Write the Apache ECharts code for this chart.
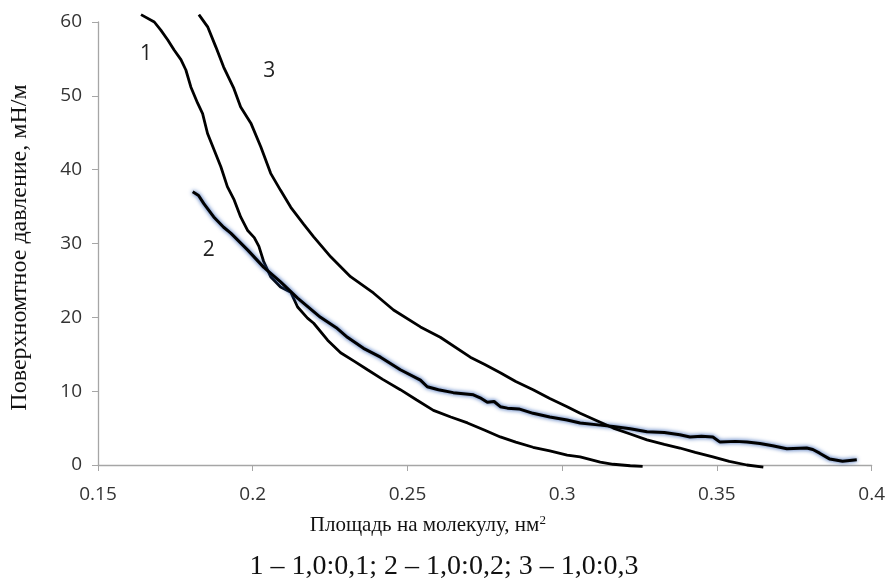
<!DOCTYPE html>
<html><head><meta charset="utf-8">
<script src="https://cdn.jsdelivr.net/npm/echarts@6/dist/echarts.min.js"></script>
<style>html,body{margin:0;padding:0;background:#fff}#c{width:888px;height:579px}</style>
</head><body><div id="c"></div>
<script>
var xTicks = ['0.15','0.2','0.25','0.3','0.35','0.4'];
var yTicks = [0,10,20,30,40,50,60];
var curve1 = [[0.1639,61.0],[0.1682,60.0],[0.1703,58.9],[0.1725,57.6],[0.1746,56.2],[0.1768,54.9],[0.1784,53.5],[0.1800,51.2],[0.1822,49.0],[0.1838,47.6],[0.1854,44.9],[0.1875,42.7],[0.1897,40.4],[0.1918,37.7],[0.1940,35.9],[0.1961,33.6],[0.1983,31.8],[0.2005,30.8],[0.2020,29.6],[0.2035,27.6],[0.2058,25.5],[0.2090,24.1],[0.2123,23.4],[0.2145,21.4],[0.2177,19.9],[0.2197,19.2],[0.2242,16.9],[0.2284,15.2],[0.2330,14.0],[0.2371,12.9],[0.2420,11.6],[0.2477,10.2],[0.2530,8.8],[0.2584,7.4],[0.2640,6.5],[0.2694,5.7],[0.2750,4.7],[0.2800,3.8],[0.2850,3.1],[0.2906,2.4],[0.2960,1.9],[0.3016,1.35],[0.3058,1.1],[0.3123,0.4],[0.3165,0.1],[0.3220,-0.1],[0.3260,-0.2]];
var curve2 = [[0.1806,37.0],[0.1825,36.5],[0.1842,35.4],[0.1874,33.6],[0.1906,32.2],[0.1929,31.4],[0.1984,29.1],[0.2035,26.8],[0.2090,24.8],[0.2145,22.6],[0.2219,20.0],[0.2270,18.6],[0.2306,17.3],[0.2358,15.8],[0.2413,14.6],[0.2477,12.9],[0.2542,11.5],[0.2564,10.6],[0.2600,10.2],[0.2648,9.8],[0.2713,9.5],[0.2735,9.1],[0.2758,8.5],[0.2780,8.6],[0.2800,7.9],[0.2823,7.7],[0.2860,7.6],[0.2906,7.0],[0.2960,6.5],[0.3016,6.1],[0.3058,5.7],[0.3123,5.4],[0.3165,5.2],[0.3220,4.9],[0.3274,4.5],[0.3330,4.4],[0.3380,4.1],[0.3413,3.8],[0.3450,3.9],[0.3487,3.8],[0.3510,3.1],[0.3560,3.2],[0.3597,3.1],[0.3639,2.9],[0.3680,2.6],[0.3726,2.2],[0.3790,2.3],[0.3810,2.1],[0.3832,1.6],[0.3865,0.8],[0.3906,0.5],[0.3952,0.7]];
var curve3 = [[0.1826,61.0],[0.1855,59.3],[0.1881,56.6],[0.1906,53.9],[0.1939,51.0],[0.1961,48.5],[0.1994,46.3],[0.2026,43.1],[0.2058,39.5],[0.2090,37.2],[0.2123,34.9],[0.2165,32.6],[0.2197,30.9],[0.2252,28.2],[0.2316,25.5],[0.2390,23.3],[0.2455,21.0],[0.2542,18.7],[0.2606,17.3],[0.2703,14.6],[0.2750,13.6],[0.2800,12.5],[0.2850,11.3],[0.2906,10.2],[0.2960,9.0],[0.3016,7.9],[0.3058,7.0],[0.3123,5.8],[0.3165,5.0],[0.3220,4.2],[0.3274,3.4],[0.3330,2.8],[0.3380,2.3],[0.3430,1.7],[0.3487,1.1],[0.3540,0.5],[0.3597,0.0],[0.3650,-0.3]];
var curveLabels = [{name:'1', coord:[0.1655,55.7]},{name:'2', coord:[0.1858,29.1]},{name:'3', coord:[0.2053,53.3]}];
var xTitle = 'Площадь на молекулу, нм';
var yTitle = 'Поверхномтное давление, мН/м';
var caption = '1 – 1,0:0,1; 2 – 1,0:0,2; 3 – 1,0:0,3';

var chart = echarts.init(document.getElementById('c'));
var sansFont = '"Open Sans", "Liberation Sans", sans-serif';
var serifFont = '"Liberation Serif", "DejaVu Serif", serif';
function mk(name, data, idx, extra) {
  return {
    name: name, type: 'line', data: data, showSymbol: false, symbol: 'none',
    clip: false, smooth: false,
    lineStyle: Object.assign({color: '#000', width: 2.8}, extra || {}),
    markPoint: {
      symbol: 'circle', symbolSize: 0,
      label: {show: true, formatter: '{b}', color: '#222', fontFamily: sansFont, fontSize: 21},
      data: [curveLabels[idx]]
    }
  };
}
chart.setOption({
  animation: false,
  backgroundColor: '#fff',
  grid: {left: 97, right: 16, top: 22, bottom: 114},
  xAxis: {
    type: 'value', min: 0.15, max: 0.4, interval: 0.05,
    name: '{a|' + xTitle + '}{s|2}', nameLocation: 'middle', nameGap: 49,
    nameTextStyle: {padding: [0, 114, 0, 0], rich: {a: {fontFamily: serifFont, fontSize: 21, color: '#111'}, s: {fontFamily: serifFont, fontSize: 13, color: '#111', verticalAlign: 'top', padding: [0,0,9,0]}}},
    axisLine: {lineStyle: {color: '#a6a6a6', width: 1.3}},
    axisTick: {show: true, length: 6, lineStyle: {color: '#a6a6a6'}},
    axisLabel: {margin: 20, fontFamily: sansFont, fontSize: 19, color: '#333',
      formatter: function(v){ var i = Math.round((v-0.15)/0.05); return xTicks[i] !== undefined ? xTicks[i] : ''; }},
    splitLine: {show: false}
  },
  yAxis: {
    type: 'value', min: 0, max: 60, interval: 10,
    name: yTitle, nameLocation: 'middle', nameGap: 66,
    nameTextStyle: {fontFamily: serifFont, fontSize: 24, color: '#111', padding: [0, 8, 0, 0]},
    axisLine: {show: true, lineStyle: {color: '#a6a6a6', width: 1.3}},
    axisTick: {show: true, length: 6, lineStyle: {color: '#a6a6a6'}},
    axisLabel: {margin: 16, fontFamily: sansFont, fontSize: 19, color: '#333',
      formatter: function(v){ return yTicks.indexOf(v) >= 0 ? String(v) : ''; }},
    splitLine: {show: false}
  },
  graphic: [{type: 'text', left: 'center', top: 553, style: {text: caption, font: '28px "Liberation Serif", serif', fill: '#111'}}],
  series: [
    mk('1', curve1, 0),
    mk('2', curve2, 1, {width: 3, shadowColor: 'rgba(30,80,170,1)', shadowBlur: 4}),
    mk('3', curve3, 2)
  ]
});
</script></body></html>
